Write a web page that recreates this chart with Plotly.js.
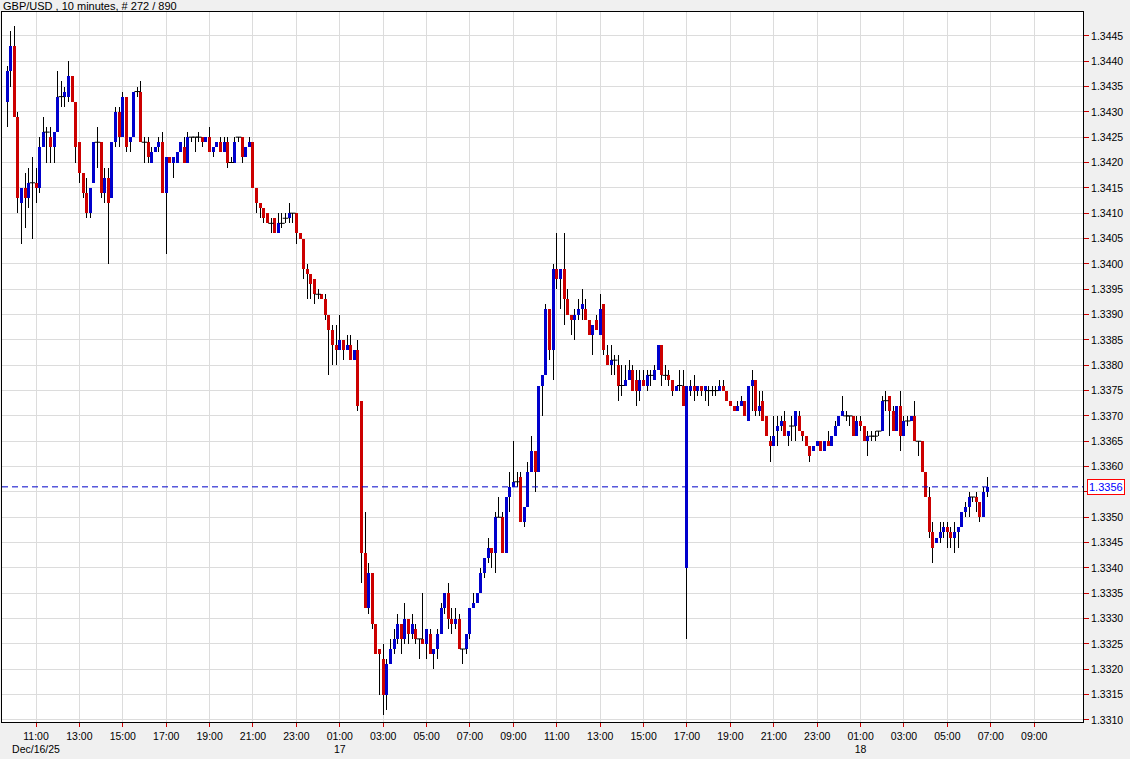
<!DOCTYPE html>
<html><head><meta charset="utf-8">
<script src="https://cdn.plot.ly/plotly-3.0.1.min.js"></script>
<style>html,body{margin:0;padding:0;background:#f0f0f0;} #chart{width:1130px;height:759px;}
#chart .scatterlayer path.js-line{shape-rendering:crispEdges;}</style>
</head><body><div id="chart"></div>
<script>
const titleText = "GBP/USD , 10 minutes, # 272 / 890";
const startTime = "2025-12-16T09:40:00Z";
const barMinutes = 10;

const opens = [
1.3432,1.3438,1.3443,1.3429,1.3412,1.3415,1.3413,1.3416,1.3416,1.3415,
1.3423,1.3426,1.3425,1.3423,1.3426,1.3433,1.3433,1.3433,1.3437,1.3432,
1.3424,1.3418,1.3414,1.3410,1.3416,1.3424,1.3424,1.3414,1.3417,1.3413,
1.3424,1.3430,1.3425,1.3433,1.3424,1.3425,1.3434,1.3434,1.3424,1.3424,
1.3420,1.3422,1.3423,1.3424,1.3414,1.3421,1.3420,1.3420,1.3422,1.3423,
1.3420,1.3425,1.3425,1.3425,1.3425,1.3424,1.3425,1.3422,1.3423,1.3424,
1.3422,1.3424,1.3420,1.3420,1.3425,1.3425,1.3421,1.3423,1.3424,1.3415,
1.3412,1.3411,1.3410,1.3408,1.3409,1.3406,1.3408,1.3409,1.3409,1.3410,
1.3410,1.3406,1.3405,1.3399,1.3398,1.3397,1.3394,1.3394,1.3393,1.3390,
1.3387,1.3384,1.3383,1.3385,1.3383,1.3384,1.3381,1.3383,1.3373,1.3343,
1.3332,1.3339,1.3329,1.3324,1.3322,1.3315,1.3321,1.3324,1.3326,1.3329,
1.3326,1.3330,1.3327,1.3328,1.3326,1.3326,1.3325,1.3327,1.3323,1.3324,
1.3327,1.3332,1.3335,1.3330,1.3329,1.3330,1.3324,1.3324,1.3327,1.3332,
1.3333,1.3335,1.3339,1.3342,1.3344,1.3343,1.3350,1.3350,1.3343,1.3354,
1.3356,1.3357,1.3358,1.3349,1.3352,1.3359,1.3363,1.3359,1.3376,1.3378,
1.3391,1.3383,1.3399,1.3397,1.3399,1.3393,1.3390,1.3389,1.3390,1.3391,
1.3391,1.3389,1.3386,1.3389,1.3386,1.3392,1.3382,1.3380,1.3381,1.3380,
1.3376,1.3376,1.3377,1.3379,1.3377,1.3375,1.3377,1.3376,1.3378,1.3377,
1.3379,1.3384,1.3378,1.3378,1.3377,1.3375,1.3376,1.3376,1.3340,1.3375,
1.3376,1.3375,1.3376,1.3375,1.3375,1.3375,1.3375,1.3375,1.3376,1.3375,
1.3373,1.3372,1.3371,1.3372,1.3373,1.3369,1.3376,1.3377,1.3371,1.3373,
1.3370,1.3365,1.3364,1.3367,1.3368,1.3369,1.3366,1.3368,1.3368,1.3370,
1.3367,1.3366,1.3364,1.3363,1.3364,1.3365,1.3363,1.3365,1.3364,1.3366,
1.3368,1.3370,1.3370,1.3370,1.3370,1.3366,1.3369,1.3368,1.3365,1.3366,
1.3366,1.3367,1.3367,1.3373,1.3374,1.3371,1.3367,1.3372,1.3366,1.3369,
1.3369,1.3370,1.3365,1.3365,1.3359,1.3354,1.3347,1.3345,1.3346,1.3347,
1.3348,1.3347,1.3346,1.3347,1.3348,1.3351,1.3352,1.3354,1.3354,1.3353,
1.3350,1.3355];

const highs = [
1.3439,1.3446,1.3447,1.3430,1.3415,1.3418,1.3419,1.3421,1.3419,1.3425,
1.3429,1.3427,1.3427,1.3426,1.3438,1.3436,1.3435,1.3440,1.3437,1.3432,
1.3424,1.3418,1.3417,1.3415,1.3424,1.3427,1.3424,1.3419,1.3419,1.3424,
1.3431,1.3431,1.3434,1.3433,1.3425,1.3434,1.3435,1.3436,1.3425,1.3425,
1.3423,1.3423,1.3425,1.3426,1.3421,1.3421,1.3421,1.3422,1.3424,1.3425,
1.3426,1.3425,1.3425,1.3426,1.3425,1.3425,1.3427,1.3423,1.3424,1.3425,
1.3425,1.3425,1.3421,1.3425,1.3425,1.3425,1.3423,1.3425,1.3424,1.3415,
1.3412,1.3411,1.3410,1.3409,1.3409,1.3410,1.3410,1.3410,1.3412,1.3410,
1.3410,1.3406,1.3405,1.3400,1.3398,1.3397,1.3395,1.3394,1.3394,1.3390,
1.3388,1.3388,1.3390,1.3385,1.3386,1.3386,1.3383,1.3385,1.3373,1.3351,
1.3341,1.3339,1.3329,1.3324,1.3325,1.3322,1.3326,1.3328,1.3331,1.3329,
1.3333,1.3330,1.3331,1.3329,1.3326,1.3335,1.3328,1.3328,1.3324,1.3328,
1.3333,1.3335,1.3337,1.3332,1.3332,1.3331,1.3324,1.3327,1.3332,1.3335,
1.3335,1.3340,1.3342,1.3346,1.3344,1.3351,1.3354,1.3351,1.3354,1.3359,
1.3365,1.3359,1.3359,1.3352,1.3361,1.3366,1.3363,1.3376,1.3378,1.3392,
1.3391,1.3400,1.3406,1.3399,1.3406,1.3395,1.3390,1.3391,1.3393,1.3395,
1.3393,1.3389,1.3388,1.3390,1.3394,1.3392,1.3384,1.3384,1.3382,1.3382,
1.3380,1.3380,1.3381,1.3380,1.3379,1.3379,1.3379,1.3379,1.3379,1.3380,
1.3384,1.3384,1.3380,1.3379,1.3377,1.3376,1.3379,1.3379,1.3376,1.3377,
1.3378,1.3376,1.3376,1.3376,1.3376,1.3376,1.3376,1.3377,1.3377,1.3375,
1.3373,1.3372,1.3373,1.3374,1.3373,1.3376,1.3379,1.3377,1.3375,1.3375,
1.3370,1.3366,1.3370,1.3370,1.3370,1.3371,1.3367,1.3370,1.3371,1.3371,
1.3367,1.3366,1.3364,1.3364,1.3365,1.3365,1.3365,1.3367,1.3366,1.3369,
1.3370,1.3374,1.3371,1.3370,1.3370,1.3370,1.3370,1.3368,1.3367,1.3367,
1.3367,1.3367,1.3374,1.3375,1.3374,1.3372,1.3372,1.3375,1.3370,1.3370,
1.3370,1.3373,1.3365,1.3365,1.3359,1.3356,1.3349,1.3346,1.3349,1.3349,
1.3349,1.3348,1.3349,1.3348,1.3351,1.3353,1.3355,1.3354,1.3355,1.3353,
1.3356,1.3358];

const lows = [
1.3427,1.3435,1.3429,1.3410,1.3404,1.3407,1.3411,1.3405,1.3412,1.3414,
1.3423,1.3420,1.3420,1.3420,1.3426,1.3431,1.3431,1.3432,1.3432,1.3420,
1.3416,1.3413,1.3409,1.3409,1.3416,1.3419,1.3413,1.3412,1.3400,1.3413,
1.3423,1.3423,1.3425,1.3422,1.3422,1.3425,1.3433,1.3424,1.3420,1.3420,
1.3420,1.3422,1.3422,1.3414,1.3402,1.3420,1.3417,1.3420,1.3422,1.3420,
1.3420,1.3424,1.3422,1.3424,1.3423,1.3424,1.3422,1.3421,1.3423,1.3422,
1.3422,1.3419,1.3420,1.3420,1.3424,1.3420,1.3421,1.3423,1.3415,1.3410,
1.3409,1.3408,1.3408,1.3406,1.3406,1.3406,1.3407,1.3408,1.3408,1.3408,
1.3404,1.3405,1.3397,1.3393,1.3393,1.3392,1.3393,1.3393,1.3389,1.3378,
1.3380,1.3380,1.3383,1.3381,1.3383,1.3381,1.3381,1.3371,1.3337,1.3332,
1.3331,1.3328,1.3323,1.3315,1.3311,1.3312,1.3321,1.3323,1.3325,1.3323,
1.3325,1.3325,1.3326,1.3325,1.3322,1.3325,1.3322,1.3323,1.3320,1.3322,
1.3327,1.3331,1.3328,1.3327,1.3328,1.3324,1.3321,1.3323,1.3326,1.3332,
1.3333,1.3335,1.3338,1.3341,1.3340,1.3339,1.3350,1.3343,1.3343,1.3351,
1.3356,1.3356,1.3349,1.3348,1.3352,1.3359,1.3355,1.3359,1.3370,1.3378,
1.3381,1.3377,1.3395,1.3391,1.3388,1.3390,1.3386,1.3385,1.3389,1.3389,
1.3389,1.3386,1.3382,1.3387,1.3386,1.3382,1.3380,1.3378,1.3378,1.3373,
1.3374,1.3376,1.3377,1.3375,1.3372,1.3373,1.3376,1.3375,1.3376,1.3377,
1.3379,1.3376,1.3377,1.3376,1.3374,1.3375,1.3375,1.3372,1.3326,1.3374,
1.3373,1.3374,1.3374,1.3373,1.3372,1.3374,1.3374,1.3375,1.3375,1.3373,
1.3372,1.3371,1.3371,1.3372,1.3370,1.3369,1.3371,1.3370,1.3370,1.3369,
1.3366,1.3361,1.3364,1.3364,1.3367,1.3366,1.3364,1.3365,1.3365,1.3367,
1.3365,1.3364,1.3361,1.3363,1.3364,1.3363,1.3363,1.3364,1.3364,1.3366,
1.3368,1.3370,1.3369,1.3368,1.3366,1.3366,1.3367,1.3365,1.3362,1.3365,
1.3365,1.3366,1.3367,1.3371,1.3366,1.3367,1.3367,1.3363,1.3366,1.3368,
1.3369,1.3365,1.3362,1.3359,1.3354,1.3346,1.3341,1.3345,1.3345,1.3346,
1.3344,1.3344,1.3343,1.3344,1.3348,1.3350,1.3350,1.3353,1.3351,1.3349,
1.3350,1.3354];

const closes = [
1.3438,1.3443,1.3429,1.3413,1.3415,1.3413,1.3416,1.3416,1.3415,1.3423,
1.3426,1.3426,1.3423,1.3426,1.3433,1.3433,1.3434,1.3437,1.3432,1.3423,
1.3418,1.3414,1.3410,1.3415,1.3424,1.3424,1.3414,1.3417,1.3412,1.3424,
1.3430,1.3425,1.3433,1.3423,1.3425,1.3434,1.3434,1.3424,1.3424,1.3421,
1.3422,1.3423,1.3424,1.3414,1.3421,1.3420,1.3421,1.3422,1.3424,1.3420,
1.3425,1.3425,1.3425,1.3425,1.3424,1.3425,1.3422,1.3423,1.3424,1.3422,
1.3424,1.3420,1.3420,1.3424,1.3425,1.3421,1.3423,1.3424,1.3415,1.3412,
1.3411,1.3409,1.3408,1.3408,1.3406,1.3408,1.3408,1.3409,1.3410,1.3410,
1.3406,1.3405,1.3399,1.3398,1.3396,1.3394,1.3394,1.3393,1.3390,1.3387,
1.3384,1.3383,1.3385,1.3383,1.3384,1.3381,1.3383,1.3372,1.3343,1.3332,
1.3339,1.3329,1.3323,1.3323,1.3315,1.3321,1.3324,1.3326,1.3329,1.3326,
1.3330,1.3327,1.3329,1.3326,1.3326,1.3325,1.3328,1.3323,1.3324,1.3327,
1.3332,1.3335,1.3330,1.3329,1.3330,1.3324,1.3324,1.3327,1.3332,1.3333,
1.3335,1.3339,1.3342,1.3344,1.3343,1.3350,1.3350,1.3343,1.3354,1.3356,
1.3357,1.3357,1.3349,1.3352,1.3359,1.3363,1.3359,1.3376,1.3378,1.3391,
1.3383,1.3399,1.3397,1.3399,1.3393,1.3390,1.3389,1.3390,1.3391,1.3392,
1.3389,1.3386,1.3388,1.3387,1.3391,1.3383,1.3380,1.3381,1.3381,1.3376,
1.3376,1.3377,1.3379,1.3375,1.3375,1.3377,1.3376,1.3378,1.3378,1.3379,
1.3384,1.3378,1.3378,1.3377,1.3375,1.3376,1.3376,1.3372,1.3376,1.3376,
1.3375,1.3376,1.3375,1.3376,1.3375,1.3375,1.3375,1.3376,1.3375,1.3373,
1.3372,1.3371,1.3372,1.3373,1.3370,1.3376,1.3377,1.3371,1.3372,1.3369,
1.3366,1.3364,1.3366,1.3368,1.3369,1.3366,1.3367,1.3368,1.3371,1.3367,
1.3366,1.3364,1.3362,1.3364,1.3365,1.3363,1.3365,1.3364,1.3366,1.3368,
1.3370,1.3371,1.3370,1.3370,1.3366,1.3369,1.3368,1.3365,1.3366,1.3366,
1.3366,1.3367,1.3373,1.3373,1.3371,1.3367,1.3372,1.3366,1.3369,1.3369,
1.3370,1.3365,1.3365,1.3359,1.3354,1.3347,1.3344,1.3346,1.3347,1.3348,
1.3347,1.3346,1.3347,1.3348,1.3351,1.3352,1.3354,1.3354,1.3353,1.3350,
1.3355,1.3356];

const tickTimes = [
"2025-12-16 11:00","2025-12-16 13:00","2025-12-16 15:00","2025-12-16 17:00","2025-12-16 19:00","2025-12-16 21:00","2025-12-16 23:00",
"2025-12-17 01:00","2025-12-17 03:00","2025-12-17 05:00","2025-12-17 07:00","2025-12-17 09:00","2025-12-17 11:00","2025-12-17 13:00",
"2025-12-17 15:00","2025-12-17 17:00","2025-12-17 19:00","2025-12-17 21:00","2025-12-17 23:00",
"2025-12-18 01:00","2025-12-18 03:00","2025-12-18 05:00","2025-12-18 07:00","2025-12-18 09:00"];
const tickLabels = [
"11:00<br>Dec/16/25","13:00","15:00","17:00","19:00","21:00","23:00",
"01:00<br>17","03:00","05:00","07:00","09:00","11:00","13:00",
"15:00","17:00","19:00","21:00","23:00",
"01:00<br>18","03:00","05:00","07:00","09:00"];

// price axis labels, 1.3310 .. 1.3445 every 0.0005
const priceTicks = [1.3310,1.3315,1.3320,1.3325,1.3330,1.3335,1.3340,1.3345,1.3350,1.3355,
  1.3360,1.3365,1.3370,1.3375,1.3380,1.3385,1.3390,1.3395,1.3400,1.3405,1.3410,1.3415,
  1.3420,1.3425,1.3430,1.3435,1.3440,1.3445];

const upColor = "#0000cc", downColor = "#cc0000";
const t0 = Date.parse(startTime);
const fmt = ms => new Date(ms).toISOString().slice(0,19).replace("T"," ");
const times = opens.map((_, i) => fmt(t0 + i * barMinutes * 60000));

const wx = [], wy = [], ux = [], uy = [], dx = [], dy = [], jx = [], jy = [];
for (let i = 0; i < opens.length; i++) {
  const o = opens[i], c = closes[i], t = times[i];
  wx.push(t, t, null); wy.push(lows[i], highs[i], null);
  if (Math.abs(c - o) < 1e-9) { jx.push(t); jy.push(o); }
  else if (c > o) { ux.push(t, t, null); uy.push(o, c, null); }
  else { dx.push(t, t, null); dy.push(o, c, null); }
}

const traces = [
  {type:"scatter", mode:"lines", x:wx, y:wy, line:{color:"#000000", width:1}, hoverinfo:"skip", showlegend:false},
  {type:"scatter", mode:"lines", x:ux, y:uy, line:{color:upColor, width:3}, hoverinfo:"skip", showlegend:false},
  {type:"scatter", mode:"lines", x:dx, y:dy, line:{color:downColor, width:3}, hoverinfo:"skip", showlegend:false},
  {type:"scatter", mode:"markers", x:jx, y:jy, marker:{symbol:"line-ew", size:4, color:"#000000", line:{color:"#000000", width:1}}, hoverinfo:"skip", showlegend:false}
];

const lastClose = closes[closes.length - 1];
const font = {family:"Liberation Sans, Arial, sans-serif", size:10.5, color:"#000000"};
// the last-price box covers the nearest price label
const priceLabels = priceTicks.map(p => Math.abs(p - lastClose) < 0.00025 ? "" : p.toFixed(4));

const layout = {
  width:1130, height:759,
  margin:{l:2, r:47, t:12, b:37, pad:0},
  paper_bgcolor:"#f0f0f0", plot_bgcolor:"#ffffff",
  font: font,
  showlegend:false,
  xaxis:{
    type:"date",
    range:["2025-12-16 09:26","2025-12-18 11:15"],
    tickmode:"array", tickvals:tickTimes, ticktext:tickLabels,
    ticks:"outside", ticklen:4, tickcolor:"#cc0000", tickwidth:1,
    showgrid:true, gridcolor:"#dcdcdc", gridwidth:1,
    showline:true, linecolor:"#000000", linewidth:1, mirror:true,
    zeroline:false, tickfont:font, fixedrange:true
  },
  yaxis:{
    side:"right",
    range:[1.33096, 1.34497],
    tickmode:"array", tickvals:priceTicks, ticktext:priceLabels,
    ticks:"outside", ticklen:5, tickcolor:"#cc0000", tickwidth:1,
    showgrid:true, gridcolor:"#dcdcdc", gridwidth:1,
    showline:true, linecolor:"#000000", linewidth:1, mirror:true,
    zeroline:false, tickfont:font, fixedrange:true
  },
  shapes:[
    {type:"line", xref:"paper", x0:0, x1:1, yref:"y", y0:lastClose, y1:lastClose,
     line:{color:"#0000c8", width:1, dash:"6px,4px"}}
  ],
  annotations:[
    {text:titleText, xref:"paper", yref:"paper", x:0, y:1, xanchor:"left", yanchor:"bottom",
     showarrow:false, font:{family:font.family, size:11, color:"#000000"}, borderpad:0, yshift:-1},
    {text:lastClose.toFixed(4), xref:"paper", yref:"y", x:1, y:lastClose, xanchor:"left", yanchor:"middle",
     xshift:4, showarrow:false, bgcolor:"#ffffff", bordercolor:"#ff0000", borderwidth:1, borderpad:1,
     font:{family:font.family, size:11, color:"#0000ff"}}
  ]
};

Plotly.newPlot("chart", traces, layout, {displayModeBar:false, staticPlot:true});
</script>
</body></html>
